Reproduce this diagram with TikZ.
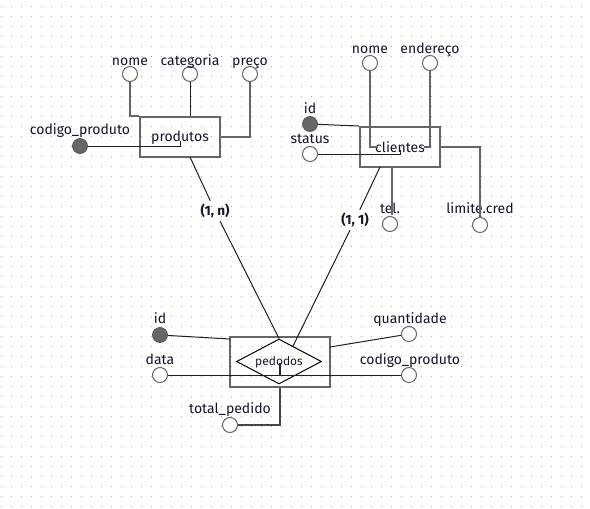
\documentclass[tikz,border=0pt]{standalone}
\usepackage{fontspec}
\setmainfont{Fira Sans}
\usetikzlibrary{shapes.geometric}
\definecolor{gridc}{HTML}{A8A8A8}
\definecolor{boxc}{HTML}{666666}
\definecolor{txt}{HTML}{15152A}
\begin{document}
\begin{tikzpicture}[x=1pt,y=-1pt,
  attr/.style={circle, draw=boxc, fill=white, line width=1pt, minimum size=15pt, inner sep=0pt},
  keyattr/.style={circle, draw=boxc!85!black, fill=boxc, line width=0.8pt, minimum size=15pt, inner sep=0pt},
  lbl/.style={text=txt, font=\fontsize{14}{16}\selectfont, inner sep=0pt, anchor=base},
  entity/.style={draw=boxc, line width=2pt, minimum width=80pt, minimum height=40pt, inner sep=0pt},
  etext/.style={text=txt, font=\fontsize{14}{16}\selectfont, inner sep=0pt, anchor=base},
  card/.style={text=txt, font=\bfseries\fontsize{13.5}{16}\selectfont, inner sep=3pt},
  gline/.style={draw=boxc, line width=1.6pt},
  bline/.style={draw=black!88, line width=1pt}]
\useasboundingbox (0,0) rectangle (590,509);
\fill[white] (0,0) rectangle (590,509);
\foreach \i in {0,...,58}{\foreach \j in {0,...,50}{\fill[gridc] (0.5+10*\i,5.5+10*\j) rectangle ++(1,1);}}

% ---------- produtos ----------
\node[entity] (prod) at (180,137) {};
\node[etext] (prodt) at (180,141) {produtos};
\node[attr] (pnome) at (130,74) {};
\node[attr] (pcat) at (190,74) {};
\node[attr] (ppreco) at (250,74) {};
\node[keyattr] (pcod) at (80,146) {};
\node[lbl] (lpnome) at (130,65) {nome};
\node[lbl] (lpcat) at (190,65) {categoria};
\node[lbl] (lppreco) at (250,65) {preço};
\node[lbl] (lpcod) at (80,134) {codigo\_produto};
\coordinate (pc1) at (180,141);
\draw[gline] (pnome.south) |- (prod.north west);
\draw[bline] (pcat.south) -- (pcat.south |- prod.north);
\draw[gline] (ppreco.south) |- (prod.east);
\draw[bline] (pcod) -| (pc1);

% ---------- clientes ----------
\node[entity] (cli) at (400,147) {};
\node[etext] (clit) at (400,152) {clientes};
\node[attr] (cnome) at (370,63) {};
\node[attr] (cend) at (430,63) {};
\node[keyattr] (cid) at (310,124) {};
\node[attr] (cstat) at (310,154) {};
\node[attr] (ctel) at (390,224) {};
\node[attr] (clim) at (480,225) {};
\node[lbl] (lcnome) at (370,53) {nome};
\node[lbl] (lcend) at (430,53) {endereço};
\node[lbl] (lcid) at (310,113) {id};
\node[lbl] (lcstat) at (310,143) {status};
\node[lbl] (lctel) at (390,213) {tel.};
\node[lbl] (lclim) at (480,213) {limite.cred};
\coordinate (cn1) at (378,147);
\coordinate (ce1) at (424,147);
\coordinate (cs1) at (400,150);
\coordinate (ct1) at (392,167);
\coordinate (ct2) at (392,215);
\draw[gline] (cnome.south) |- (cn1);
\draw[gline] (cend.south) |- (ce1);
\draw[bline] (cid) -- (cli.north west);
\draw[bline] (cstat) -| (cs1);
\draw[gline] (cli.east) -| (clim.north);
\draw[gline] (ct1) -- (ct2);

% ---------- pedodos ----------
\node[entity, minimum width=100pt, minimum height=50pt] (ped) at (280,362) {};
\node[diamond, draw=black, line width=1pt, minimum width=85pt, minimum height=45pt, inner sep=0pt, aspect=1.9] (dia) at (279,361.5) {};
\node[text=txt, font=\fontsize{12}{14}\selectfont, inner sep=0pt, anchor=base] (diat) at (279,365) {pedodos};
\node[keyattr] (eid) at (160,335) {};
\node[attr] (edata) at (160,375) {};
\node[attr] (equant) at (409,334) {};
\node[attr] (ecod) at (409,375) {};
\node[attr] (etot) at (230,425) {};
\node[lbl] (leid) at (160,323) {id};
\node[lbl] (ledata) at (160,364) {data};
\node[lbl] (lequant) at (410,323) {quantidade};
\node[lbl] (lecod) at (410,364) {codigo\_produto};
\node[lbl] (letot) at (230,413) {total\_pedido};
\coordinate (pe1) at (230,339);
\coordinate (pe2) at (330,347);
\coordinate (st1) at (280,363);
\coordinate (st2) at (280,376);
\draw[bline] (eid) -- (pe1);
\draw[bline] (pe2) -- (equant);
\draw[bline] (edata) -- (ecod);
\draw[draw=black!85, line width=1.6pt] (st1) -- (st2);
\draw[gline, line width=1.3pt, draw=boxc!70!black] (ped.south) |- (etot.east);

% ---------- relationships ----------
\coordinate (r1) at (190,157);
\coordinate (r2) at (380,167);
\coordinate (d2) at (293,346);
\node[card] (c1) at (215,211) {(1, n)};
\node[card] (c2) at (355,220) {(1, 1)};
\draw[bline] (r1) -- (c1);
\draw[bline] (c1) -- (dia.north);
\draw[bline] (r2) -- (c2);
\draw[bline] (c2) -- (d2);
\end{tikzpicture}
\end{document}
